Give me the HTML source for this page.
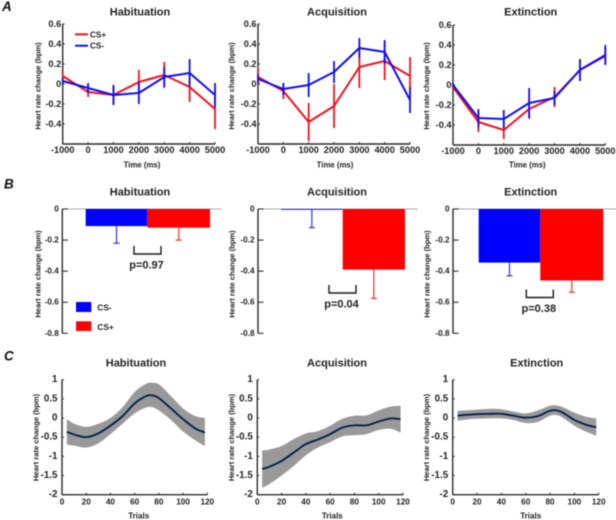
<!DOCTYPE html>
<html lang="en">
<head>
<meta charset="utf-8">
<title>Heart rate change figure</title>
<style>
html,body{margin:0;padding:0;background:#fff;}
body{width:616px;height:520px;overflow:hidden;}
#figure{display:block;filter:blur(0.4px);}
text{font-family:"Liberation Sans",Arial,sans-serif;font-weight:700;fill:#222;}
</style>
</head>
<body>
<svg id="figure" width="616" height="520" viewBox="0 0 616 520" xmlns="http://www.w3.org/2000/svg"></svg>
<script>
// ---------- Row A data: time courses ----------
const timeLabels = [-1000, 0, 1000, 2000, 3000, 4000, 5000];
const timeYTicks = [0.6, 0.4, 0.2, 0, -0.2, -0.4];
const habCsPlus = [0.08, -0.08, -0.11, 0.02, 0.09, -0.03, -0.25];
const habCsPlusErr = [0.05, 0.05, 0.10, 0.12, 0.13, 0.15, 0.20];
const habCsMinus = [0.03, -0.04, -0.11, -0.09, 0.07, 0.11, -0.11];
const habCsMinusErr = [0.03, 0.05, 0.10, 0.11, 0.10, 0.14, 0.12];
const acqCsPlus = [0.07, -0.07, -0.38, -0.22, 0.17, 0.23, 0.08];
const acqCsPlusErr = [0.08, 0.08, 0.19, 0.22, 0.21, 0.19, 0.19];
const acqCsMinus = [0.05, -0.05, -0.01, 0.12, 0.36, 0.32, -0.16];
const acqCsMinusErr = [0.05, 0.06, 0.12, 0.11, 0.10, 0.12, 0.13];
const extCsPlus = [-0.02, -0.37, -0.45, -0.24, -0.12, 0.15, 0.29];
const extCsPlusErr = [0.02, 0.10, 0.09, 0.10, 0.10, 0.11, 0.08];
const extCsMinus = [0, -0.33, -0.34, -0.18, -0.13, 0.15, 0.30];
const extCsMinusErr = [0.02, 0.09, 0.09, 0.15, 0.07, 0.11, 0.10];

// ---------- Row B data: bars ----------
const barYTicks = [0, -0.2, -0.4, -0.6, -0.8];
const barMeansHab = [-0.11, -0.12];
const barLowsHab = [-0.22, -0.20];
const barMeansAcq = [-0.005, -0.39];
const barLowsAcq = [-0.12, -0.575];
const barMeansExt = [-0.345, -0.46];
const barLowsExt = [-0.43, -0.535];
const pValues = ["p=0.97", "p=0.04", "p=0.38"];

// ---------- Row C data: trial curves ----------
const trialTicks = [0, 20, 40, 60, 80, 100, 120];
const trialYTicks = [1, 0.5, 0, -0.5, -1, -1.5, -2];
const trialYLabels = ["1", "0.5", "0", "-0.5", "-1", "-1.5", "-2"];
const habTrials = [4, 10, 20, 30, 40, 50, 60, 70, 75, 80, 90, 100, 110, 118];
const habMean = [-0.36, -0.43, -0.50, -0.40, -0.20, 0.05, 0.38, 0.58, 0.59, 0.52, 0.25, -0.03, -0.27, -0.38];
const habUpper = [-0.03, -0.15, -0.23, -0.15, 0.00, 0.28, 0.68, 0.90, 0.92, 0.88, 0.57, 0.25, 0.05, 0.00];
const habLower = [-0.69, -0.72, -0.77, -0.66, -0.42, -0.15, 0.12, 0.28, 0.28, 0.20, -0.05, -0.35, -0.58, -0.73];
const acqTrials = [4, 10, 20, 30, 40, 50, 60, 70, 80, 90, 100, 110, 118];
const acqMean = [-1.33, -1.27, -1.12, -0.90, -0.68, -0.56, -0.42, -0.25, -0.19, -0.19, -0.09, -0.01, -0.03];
const acqUpper = [-0.85, -0.82, -0.73, -0.55, -0.40, -0.34, -0.20, -0.02, 0.06, 0.07, 0.20, 0.30, 0.32];
const acqLower = [-1.82, -1.72, -1.50, -1.25, -0.97, -0.77, -0.63, -0.48, -0.45, -0.42, -0.31, -0.28, -0.38];
const extTrials = [4, 10, 20, 30, 40, 50, 60, 70, 80, 85, 90, 100, 110, 118];
const extMean = [0.06, 0.08, 0.10, 0.11, 0.11, 0.06, 0.01, 0.05, 0.19, 0.20, 0.15, -0.05, -0.18, -0.24];
const extUpper = [0.19, 0.20, 0.22, 0.24, 0.23, 0.17, 0.12, 0.20, 0.32, 0.33, 0.29, 0.14, 0.03, -0.01];
const extLower = [-0.07, -0.04, -0.02, -0.01, -0.01, -0.05, -0.13, -0.10, 0.06, 0.08, 0.02, -0.20, -0.36, -0.46];

const svg = document.getElementById('figure');
const NS = 'http://www.w3.org/2000/svg';
const AXIS = '#2c2c2c';
const RED = '#f5101c';
const BLUE = '#1010f5';

function shape(tag, parent, props) {
  const e = document.createElementNS(NS, tag);
  for (const k in props) e.setAttribute(k, props[k]);
  parent.appendChild(e);
  return e;
}
function group(name) {
  const g = document.createElementNS(NS, 'g');
  
  
  svg.appendChild(g);
  return g;
}
function line(parent, name, x1, y1, x2, y2, color, w) {
  const l = shape('line', parent, {x1, y1, x2, y2, stroke: color, 'stroke-width': w});
  
  
  return l;
}
function label(parent, name, str, x, y, size, anchor, rotate) {
  const t = shape('text', parent, {x, y, 'font-size': size, 'text-anchor': anchor || 'middle', 'dominant-baseline': 'central'});
  if (rotate) t.setAttribute('transform', 'rotate(-90 ' + x + ' ' + y + ')');
  t.textContent = str;
  
  
  return t;
}
function linearScale(d0, d1, r0, r1) {
  return v => r0 + (v - d0) * (r1 - r0) / (d1 - d0);
}

// ---------- Row A ----------
function drawTimePanel(opts) {
  const g = group('time-panel-' + opts.id);
  const x = linearScale(-1000, 5000, opts.x0, opts.x1);
  const y = linearScale(0.6, -0.6, opts.yTop, opts.yBottom);
  label(g, 'panel-title', opts.title, opts.titleX, 12.5, 11);
  line(g, 'y-axis', opts.x0, y(0.6), opts.x0, y(-0.6), AXIS, 1.4);
  line(g, 'x-axis', opts.x0, y(-0.6), opts.x1, y(-0.6), AXIS, 1.4);
  timeYTicks.forEach(v => {
    line(g, 'y-tick', opts.x0, y(v), opts.x0 + 2, y(v), AXIS, 1);
    label(g, 'y-tick-label', String(v), opts.x0 - 1.5, y(v), 9.2, 'end');
  });
  timeLabels.forEach(v => {
    line(g, 'x-tick', x(v), y(-0.6), x(v), y(-0.6) - 2, AXIS, 1);
    label(g, 'x-tick-label', String(v), x(v), y(-0.6) + 6, 9.2);
  });
  label(g, 'y-axis-title', 'Heart rate change (bpm)', opts.ylabelX, 86, 7.6, 'middle', true);
  label(g, 'x-axis-title', 'Time (ms)', opts.xlabelX, 165, 7.8);
  [[opts.plus, opts.plusErr, RED, 'cs-plus'], [opts.minus, opts.minusErr, BLUE, 'cs-minus']].forEach(s => {
    s[0].forEach((v, i) => {
      line(g, s[3] + '-error-bar', x(timeLabels[i]), y(v + s[1][i]), x(timeLabels[i]), y(Math.max(v - s[1][i], -0.6)), s[2], 1.8);
    });
    const p = shape('polyline', g, {
      points: s[0].map((v, i) => x(timeLabels[i]) + ',' + y(v)).join(' '),
      fill: 'none', stroke: s[2], 'stroke-width': 2, 'stroke-linejoin': 'round'
    });
    
    
  });
}
drawTimePanel({id: 'a-habituation', title: 'Habituation', titleX: 140, x0: 62.7, x1: 215, yTop: 24, yBottom: 144, ylabelX: 38, xlabelX: 142,
  plus: habCsPlus, plusErr: habCsPlusErr, minus: habCsMinus, minusErr: habCsMinusErr});
drawTimePanel({id: 'a-acquisition', title: 'Acquisition', titleX: 337, x0: 258, x1: 410, yTop: 24, yBottom: 144, ylabelX: 231.7, xlabelX: 335,
  plus: acqCsPlus, plusErr: acqCsPlusErr, minus: acqCsMinus, minusErr: acqCsMinusErr});
drawTimePanel({id: 'a-extinction', title: 'Extinction', titleX: 530.7, x0: 453, x1: 605.3, yTop: 25, yBottom: 145, ylabelX: 426.7, xlabelX: 527.3,
  plus: extCsPlus, plusErr: extCsPlusErr, minus: extCsMinus, minusErr: extCsMinusErr});

const legendA = group('time-legend');
line(legendA, 'legend-cs-plus-swatch', 75, 34.3, 88, 34.3, RED, 2);
label(legendA, 'legend-cs-plus-label', 'CS+', 90, 35, 8.2, 'start');
line(legendA, 'legend-cs-minus-swatch', 75, 45.7, 88, 45.7, BLUE, 2);
label(legendA, 'legend-cs-minus-label', 'CS-', 90, 46, 8.2, 'start');

// ---------- Row B ----------
function drawBarPanel(opts) {
  const g = group('bar-panel-' + opts.id);
  const y = linearScale(0, -0.8, 209, 333.3);
  label(g, 'panel-title', opts.title, opts.titleX, 192.3, 11);
  line(g, 'zero-line', opts.x0, y(0), opts.lineEnd, y(0), '#aaa', 1);
  line(g, 'y-axis', opts.x0, y(0), opts.x0, y(-0.8), AXIS, 1.4);
  barYTicks.forEach(v => {
    line(g, 'y-tick', opts.x0, y(v), opts.x0 + 5.5, y(v), AXIS, 1.1);
    label(g, 'y-tick-label', String(v), opts.x0 - 3.5, y(v), 8.2, 'end');
  });
  label(g, 'y-axis-title', 'Heart rate change (bpm)', opts.ylabelX, 274, 7.6, 'middle', true);
  const colors = [BLUE, RED];
  const edges = [opts.bar0, opts.bar1, opts.bar2];
  opts.means.forEach((m, i) => {
    const cx = (edges[i] + edges[i + 1]) / 2;
    const h = Math.max(y(m) - y(0), 0.8);
    const err = i === 0 ? '#3030f5' : '#f53030';
    line(g, 'bar-error-stem', cx, y(m), cx, y(opts.lows[i]), err, 1.2);
    line(g, 'bar-error-cap', cx - 3, y(opts.lows[i]), cx + 3, y(opts.lows[i]), err, 1.2);
    const r = shape('rect', g, {x: edges[i], y: y(0), width: edges[i + 1] - edges[i], height: h, fill: i === 0 ? '#0000ff' : '#ff0000'});
    
    
  });
  const b = shape('path', g, {
    d: 'M' + opts.brX0 + ' ' + opts.brTop + 'V' + (opts.brTop + 8) + 'H' + (opts.brX0 + 27) + 'V' + opts.brTop,
    fill: 'none', stroke: '#1a1a1a', 'stroke-width': 1.4
  });
  
  
  label(g, 'p-value', opts.p, opts.brX0 + 12.5, opts.brTop + 19.5, 11);
}
drawBarPanel({id: 'b-habituation', title: 'Habituation', titleX: 140, x0: 62.3, lineEnd: 221.7, ylabelX: 38,
  bar0: 85.7, bar1: 147.3, bar2: 210, means: barMeansHab, lows: barLowsHab, brX0: 134, brTop: 246, p: pValues[0]});
drawBarPanel({id: 'b-acquisition', title: 'Acquisition', titleX: 337, x0: 258, lineEnd: 417.7, ylabelX: 232,
  bar0: 281, bar1: 342.7, bar2: 405, means: barMeansAcq, lows: barLowsAcq, brX0: 329, brTop: 285, p: pValues[1]});
drawBarPanel({id: 'b-extinction', title: 'Extinction', titleX: 530.7, x0: 453, lineEnd: 616, ylabelX: 427,
  bar0: 478.7, bar1: 540.3, bar2: 603.3, means: barMeansExt, lows: barLowsExt, brX0: 526.3, brTop: 289.5, p: pValues[2]});

const legendB = group('bar-legend');
const swatchMinus = shape('rect', legendB, {x: 76, y: 302, width: 15.3, height: 10, fill: '#0000ff'});


label(legendB, 'legend-cs-minus-label', 'CS-', 97.3, 307.3, 8.4, 'start');
const swatchPlus = shape('rect', legendB, {x: 76, y: 321.3, width: 15.3, height: 9.7, fill: '#ff0000'});


label(legendB, 'legend-cs-plus-label', 'CS+', 97.3, 327, 8.4, 'start');

// ---------- Row C ----------
function smoothPath(points, move) {
  let d = (move ? 'M' : 'L') + points[0][0] + ' ' + points[0][1];
  for (let i = 0; i < points.length - 1; i++) {
    const p0 = points[Math.max(i - 1, 0)];
    const p1 = points[i];
    const p2 = points[i + 1];
    const p3 = points[Math.min(i + 2, points.length - 1)];
    const dx = p2[0] - p1[0];
    const s1 = (p2[1] - p0[1]) / (p2[0] - p0[0]);
    const s2 = (p3[1] - p1[1]) / (p3[0] - p1[0]);
    d += 'C' + (p1[0] + dx / 3) + ' ' + (p1[1] + s1 * dx / 3) + ' ' +
         (p2[0] - dx / 3) + ' ' + (p2[1] - s2 * dx / 3) + ' ' + p2[0] + ' ' + p2[1];
  }
  return d;
}
function drawTrialPanel(opts) {
  const g = group('trial-panel-' + opts.id);
  const x = linearScale(0, 120, opts.x0, opts.x1);
  const y = linearScale(1, -2, 379.7, 494.7);
  label(g, 'panel-title', opts.title, opts.titleX, 363.3, 11);
  const up = opts.trials.map((t, i) => [x(t), y(opts.upper[i])]);
  const low = opts.trials.map((t, i) => [x(t), y(opts.lower[i])]).reverse();
  const band = shape('path', g, {d: smoothPath(up, true) + smoothPath(low, false) + 'Z', fill: '#999'});
  
  
  const mean = shape('path', g, {
    d: smoothPath(opts.trials.map((t, i) => [x(t), y(opts.mean[i])]), true),
    fill: 'none', stroke: '#04224a', 'stroke-width': 1.9
  });
  
  
  line(g, 'y-axis', opts.x0, y(1), opts.x0, y(-2), AXIS, 1.4);
  line(g, 'x-axis', opts.x0, y(-2), opts.x1, y(-2), AXIS, 1.4);
  trialYTicks.forEach((v, i) => {
    line(g, 'y-tick', opts.x0, y(v), opts.x0 + 2, y(v), AXIS, 1);
    label(g, 'y-tick-label', trialYLabels[i], opts.x0 - 4.5, y(v), 9.8, 'end');
  });
  trialTicks.forEach(v => {
    line(g, 'x-tick', x(v), y(-2), x(v), y(-2) - 2, AXIS, 1);
    label(g, 'x-tick-label', String(v), x(v), 502, 8.2);
  });
  label(g, 'y-axis-title', 'Heart rate change (bpm)', opts.ylabelX, 437.5, 7.6, 'middle', true);
  label(g, 'x-axis-title', 'Trials', opts.xlabelX, 516, 8);
}
drawTrialPanel({id: 'c-habituation', title: 'Habituation', titleX: 136, x0: 62, x1: 207.3, ylabelX: 36, xlabelX: 138.7,
  trials: habTrials, mean: habMean, upper: habUpper, lower: habLower});
drawTrialPanel({id: 'c-acquisition', title: 'Acquisition', titleX: 337, x0: 257.3, x1: 403, ylabelX: 231.7, xlabelX: 332.3,
  trials: acqTrials, mean: acqMean, upper: acqUpper, lower: acqLower});
drawTrialPanel({id: 'c-extinction', title: 'Extinction', titleX: 536.7, x0: 452.7, x1: 598.7, ylabelX: 426.7, xlabelX: 530.7,
  trials: extTrials, mean: extMean, upper: extUpper, lower: extLower});

// ---------- Section letters ----------
const letters = group('section-letters');
[['A', 6.5, 'section-letter-a'], ['B', 184, 'section-letter-b'], ['C', 356, 'section-letter-c']].forEach(s => {
  const t = label(letters, s[2], s[0], s[0] === 'A' ? 2 : 4, s[1], 13.5, 'start');
  t.setAttribute('font-style', 'italic');
  t.style.fill = '#111';
});
</script>
</body>
</html>
